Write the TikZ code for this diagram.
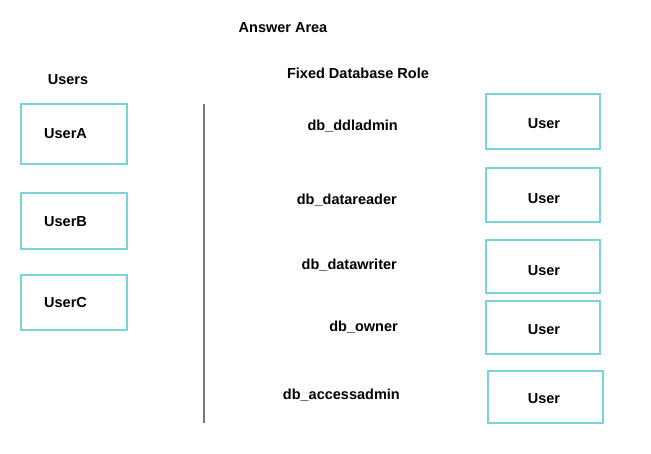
\documentclass[tikz,border=0pt]{standalone}
\usepackage{fontspec}
\setmainfont{Liberation Sans}
\definecolor{boxc}{RGB}{120,212,216}
\definecolor{linec}{RGB}{120,120,120}
\begin{document}
\begin{tikzpicture}[x=1pt,y=-1pt,
  txt/.style={font=\fontsize{14.5}{16}\selectfont\bfseries, inner sep=0pt},
  ubox/.style={draw=boxc, line width=1.3pt, inner sep=0pt}]
\useasboundingbox (0,0) rectangle (651,454);
\node[txt] (title) at (283,28) {Answer Area};
\node[txt] (users) at (68,80) {Users};
\node[txt] (fixed) at (358,73) {Fixed Database Role};
% left boxes
\node[ubox, minimum width=106pt, minimum height=60pt] (ba) at (74,134) {};
\node[ubox, minimum width=106pt, minimum height=56pt] (bb) at (74,221) {};
\node[ubox, minimum width=106pt, minimum height=55pt] (bc) at (74,302.5) {};
\node[txt, anchor=west] (ta) at (44,134) {UserA};
\node[txt, anchor=west] (tb) at (44,222) {UserB};
\node[txt, anchor=west] (tc) at (44,303) {UserC};
% divider
\coordinate (d1) at (204,104);
\coordinate (d2) at (204,423);
\draw[linec, line width=1.2pt] (d1) -- (d2);
% roles
\node[txt, anchor=east] (r1) at (398,126) {db\_ddladmin};
\node[txt, anchor=east] (r2) at (397,200) {db\_datareader};
\node[txt, anchor=east] (r3) at (397,265) {db\_datawriter};
\node[txt, anchor=east] (r4) at (398,327) {db\_owner};
\node[txt, anchor=east] (r5) at (400,395) {db\_accessadmin};
% right boxes
\node[ubox, minimum width=114pt, minimum height=55pt] (u1) at (543,121.5) {};
\node[ubox, minimum width=114pt, minimum height=54pt] (u2) at (543,195) {};
\node[ubox, minimum width=114pt, minimum height=53pt] (u3) at (543,266.5) {};
\node[ubox, minimum width=114pt, minimum height=53pt] (u4) at (543,327.5) {};
\node[ubox, minimum width=115pt, minimum height=52pt] (u5) at (545.5,397) {};
\node[txt] at (544,124) {User};
\node[txt] at (544,199) {User};
\node[txt] at (544,271) {User};
\node[txt] at (544,330) {User};
\node[txt] at (544,399) {User};
\end{tikzpicture}
\end{document}
